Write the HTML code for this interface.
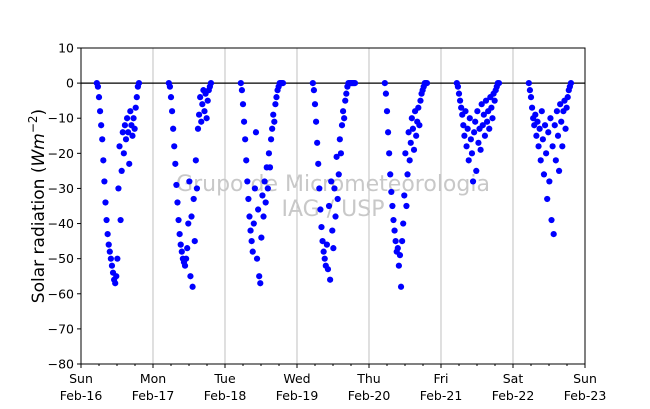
<!DOCTYPE html>
<html><head><meta charset="utf-8"><style>
body{margin:0;background:#fff}
svg{display:block;font-family:"DejaVu Sans","Liberation Sans",sans-serif}
</style></head><body>
<svg id="chart" width="650" height="409">
<g id="grid"></g>
<line x1="81" x2="585" y1="83.1" y2="83.1" stroke="#000" stroke-width="1.3"/>
<g fill="#c8c8c8" font-size="22" text-anchor="middle">
<text x="333" y="191">Grupo de Micrometeorologia</text>
<text x="333" y="216">IAG / USP</text>
</g>
<g id="points"></g>
<rect x="81" y="48" width="504" height="316" fill="none" stroke="#000" stroke-width="1"/>
<g id="axes" font-size="12.5"></g>
<text transform="translate(44,206) rotate(-90)" text-anchor="middle" font-size="17">Solar radiation (<tspan font-style="italic">Wm</tspan><tspan font-size="12" dy="-7">−2</tspan><tspan dy="7">)</tspan></text>
</svg>
<script>
const dayNames=["Sun","Mon","Tue","Wed","Thu","Fri","Sat","Sun"];
const dayDates=["Feb-16","Feb-17","Feb-18","Feb-19","Feb-20","Feb-21","Feb-22","Feb-23"];
const yTicks=[10,0,-10,-20,-30,-40,-50,-60,-70,-80];
const sampleStart=0.22, sampleStep=0.015;
const day0=[0,-1,-4,-8,-12,-16,-22,-28,-34,-39,-43,-46,-48,-50,-52,-54,-56,-57,-55,-50,-30,-18,-39,-25,-14,-20,-12,-16,-10,-14,-23,-8,-12,-15,-10,-13,-7,-4,-1,0];
const day1=[0,-1,-4,-8,-13,-18,-23,-29,-34,-39,-43,-46,-48,-50,-51,-52,-50,-47,-40,-28,-55,-38,-58,-33,-45,-22,-30,-13,-9,-4,-11,-6,-2,-8,-3,-10,-5,-2,-1,0];
const day2=[0,-2,-6,-11,-16,-22,-28,-33,-38,-42,-45,-48,-40,-30,-14,-50,-36,-55,-57,-44,-32,-38,-28,-34,-24,-30,-20,-24,-16,-13,-9,-11,-6,-4,-2,-1,0,0,0,0];
const day3=[0,-2,-6,-11,-17,-23,-30,-36,-41,-45,-48,-50,-52,-46,-53,-35,-56,-28,-42,-47,-30,-38,-21,-33,-26,-16,-20,-12,-8,-10,-5,-3,-1,0,0,0,0,0,0,0];
const day4=[0,-3,-8,-14,-20,-26,-31,-35,-39,-42,-45,-48,-47,-52,-49,-58,-45,-40,-32,-20,-35,-26,-14,-22,-17,-10,-13,-19,-8,-15,-11,-7,-12,-5,-3,-2,-1,0,0,0];
const day5=[0,-1,-3,-5,-7,-9,-12,-15,-8,-18,-13,-22,-10,-16,-20,-28,-14,-11,-25,-8,-17,-13,-19,-6,-12,-9,-15,-5,-11,-8,-13,-4,-7,-10,-3,-5,-2,-1,0,0];
const day6=[0,-2,-4,-7,-10,-12,-9,-15,-11,-18,-13,-22,-8,-16,-26,-12,-20,-33,-14,-28,-10,-39,-18,-43,-12,-22,-8,-15,-25,-6,-11,-18,-8,-5,-13,-7,-4,-2,-1,0];
const days=[day0,day1,day2,day3,day4,day5,day6];

const X0=81,X1=585,Y0=48,Y1=364,yMax=10,yMin=-80,nDays=7;
const xs=d=>X0+(X1-X0)*d/nDays;
const ys=v=>Y0+(Y1-Y0)*(yMax-v)/(yMax-yMin);
const NS="http://www.w3.org/2000/svg";
function mk(t,a){const e=document.createElementNS(NS,t);for(const k in a)e.setAttribute(k,a[k]);return e;}
const grid=document.getElementById('grid'),axes=document.getElementById('axes'),pts=document.getElementById('points');
for(let i=0;i<dayNames.length;i++){
  const x=xs(i);
  if(i>0&&i<nDays){const g=mk('line',{x1:x,x2:x,y1:Y0,y2:Y1,stroke:'#b0b0b0','stroke-width':0.8});
  
  grid.appendChild(g);}
  const tk=mk('line',{x1:x,x2:x,y1:Y1,y2:Y1+4,stroke:'#000'});
  
  axes.appendChild(tk);
  const t=mk('text',{x:x,y:Y1+19,'text-anchor':'middle'});
  
  
  t.innerHTML=`<tspan x="${x}">${dayNames[i]}</tspan><tspan x="${x}" dy="17">${dayDates[i]}</tspan>`;
  axes.appendChild(t);
  if(i<nDays)for(let m=1;m<4;m++){const mx=xs(i+m/4);
    const mt=mk('line',{x1:mx,x2:mx,y1:Y1,y2:Y1+2,stroke:'#000'});
    
    axes.appendChild(mt);}
}
yTicks.forEach(v=>{const y=ys(v);
  const tk=mk('line',{x1:X0-4,x2:X0,y1:y,y2:y,stroke:'#000'});
  
  axes.appendChild(tk);
  const t=mk('text',{x:X0-7,y:y+4.5,'text-anchor':'end'});
  
  
  t.textContent=v<0?'−'+(-v):String(v);axes.appendChild(t);});
days.forEach((arr,d)=>arr.forEach((v,i)=>{
  const c=mk('circle',{cx:xs(d+sampleStart+i*sampleStep),cy:ys(v),r:3.1,fill:'#0000ff'});
  
  pts.appendChild(c);}));
</script>
</body></html>
